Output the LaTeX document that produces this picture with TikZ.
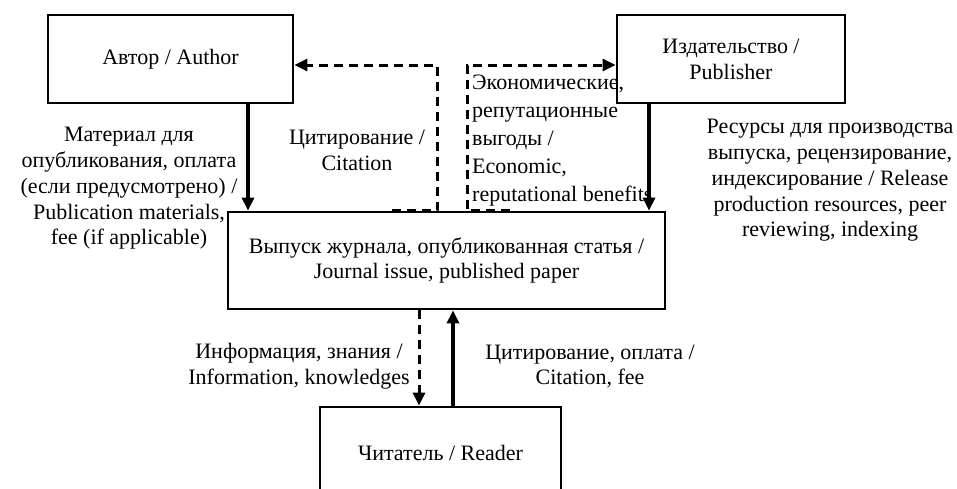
\documentclass[tikz,border=0pt]{standalone}
\usepackage{fontspec}
\setmainfont{Liberation Serif}
\usetikzlibrary{arrows.meta,positioning,calc}
\tikzset{
  box/.style={draw=black,line width=2.8pt,align=center,inner sep=2pt},
  lbl/.style={align=center,inner sep=0pt},
  ar/.style={-{Triangle[length=13pt,width=12pt]},line width=3.5pt},
  dar/.style={ar,line width=3pt,dash pattern=on 9pt off 6pt},
}
\begin{document}
\begin{tikzpicture}[x=1pt,y=-1pt,font=\fontsize{22}{25.75}\selectfont]
\useasboundingbox (0,0) rectangle (957,488);
\node[box,minimum width=245pt,minimum height=88pt] (author) at (170.5,59) {Автор / Author};
\node[box,minimum width=228pt,minimum height=88pt] (publisher) at (731,59) {Издательство /\\Publisher};
\node[box,minimum width=437pt,minimum height=97pt] (journal) at (446.5,260.5)
   {Выпуск журнала, опубликованная статья /\\Journal issue, published paper};
\node[box,minimum width=241pt,minimum height=92pt] (reader) at (440.5,453) {Читатель / Reader};
\draw[ar] ([xshift=77.5pt]author.south) -- ([xshift=77.5pt]author.south |- journal.north);
\draw[ar] ([xshift=-82pt]publisher.south) -- ([xshift=-82pt]publisher.south |- journal.north);
\draw[dar] ([xshift=-54.5pt]journal.north) -- ++(45,0) |- ([yshift=-6pt]author.east);
\draw[dar] ([xshift=63.5pt]journal.north) -- ++(-43,0) |- ([yshift=-6pt]publisher.west);
\draw[dar] ([xshift=-27.5pt]journal.south) -- ([xshift=-27.5pt]journal.south |- reader.north);
\draw[ar] ([xshift=6.5pt]journal.south |- reader.north) -- ([xshift=6.5pt]journal.south);
\node[lbl] (lmat) at (129,188.5) {Материал для\\опубликования, оплата\\(если предусмотрено) /\\Publication materials,\\fee (if applicable)};
\node[lbl] (lcit) at (357,150) {Цитирование /\\Citation};
\node[lbl,align=left,anchor=west,font=\fontsize{22}{28}\selectfont] (lecon) at (472,141)
   {Экономические,\\репутационные\\выгоды /\\Economic,\\reputational benefits};
\node[lbl] (lres) at (830,180.5) {Ресурсы для производства\\выпуска, рецензирование,\\индексирование / Release\\production resources, peer\\reviewing, indexing};
\node[lbl] (linfo) at (299,366.5) {Информация, знания /\\Information, knowledges};
\node[lbl] (lfee) at (590,366.5) {Цитирование, оплата /\\Citation, fee};
\end{tikzpicture}
\end{document}
